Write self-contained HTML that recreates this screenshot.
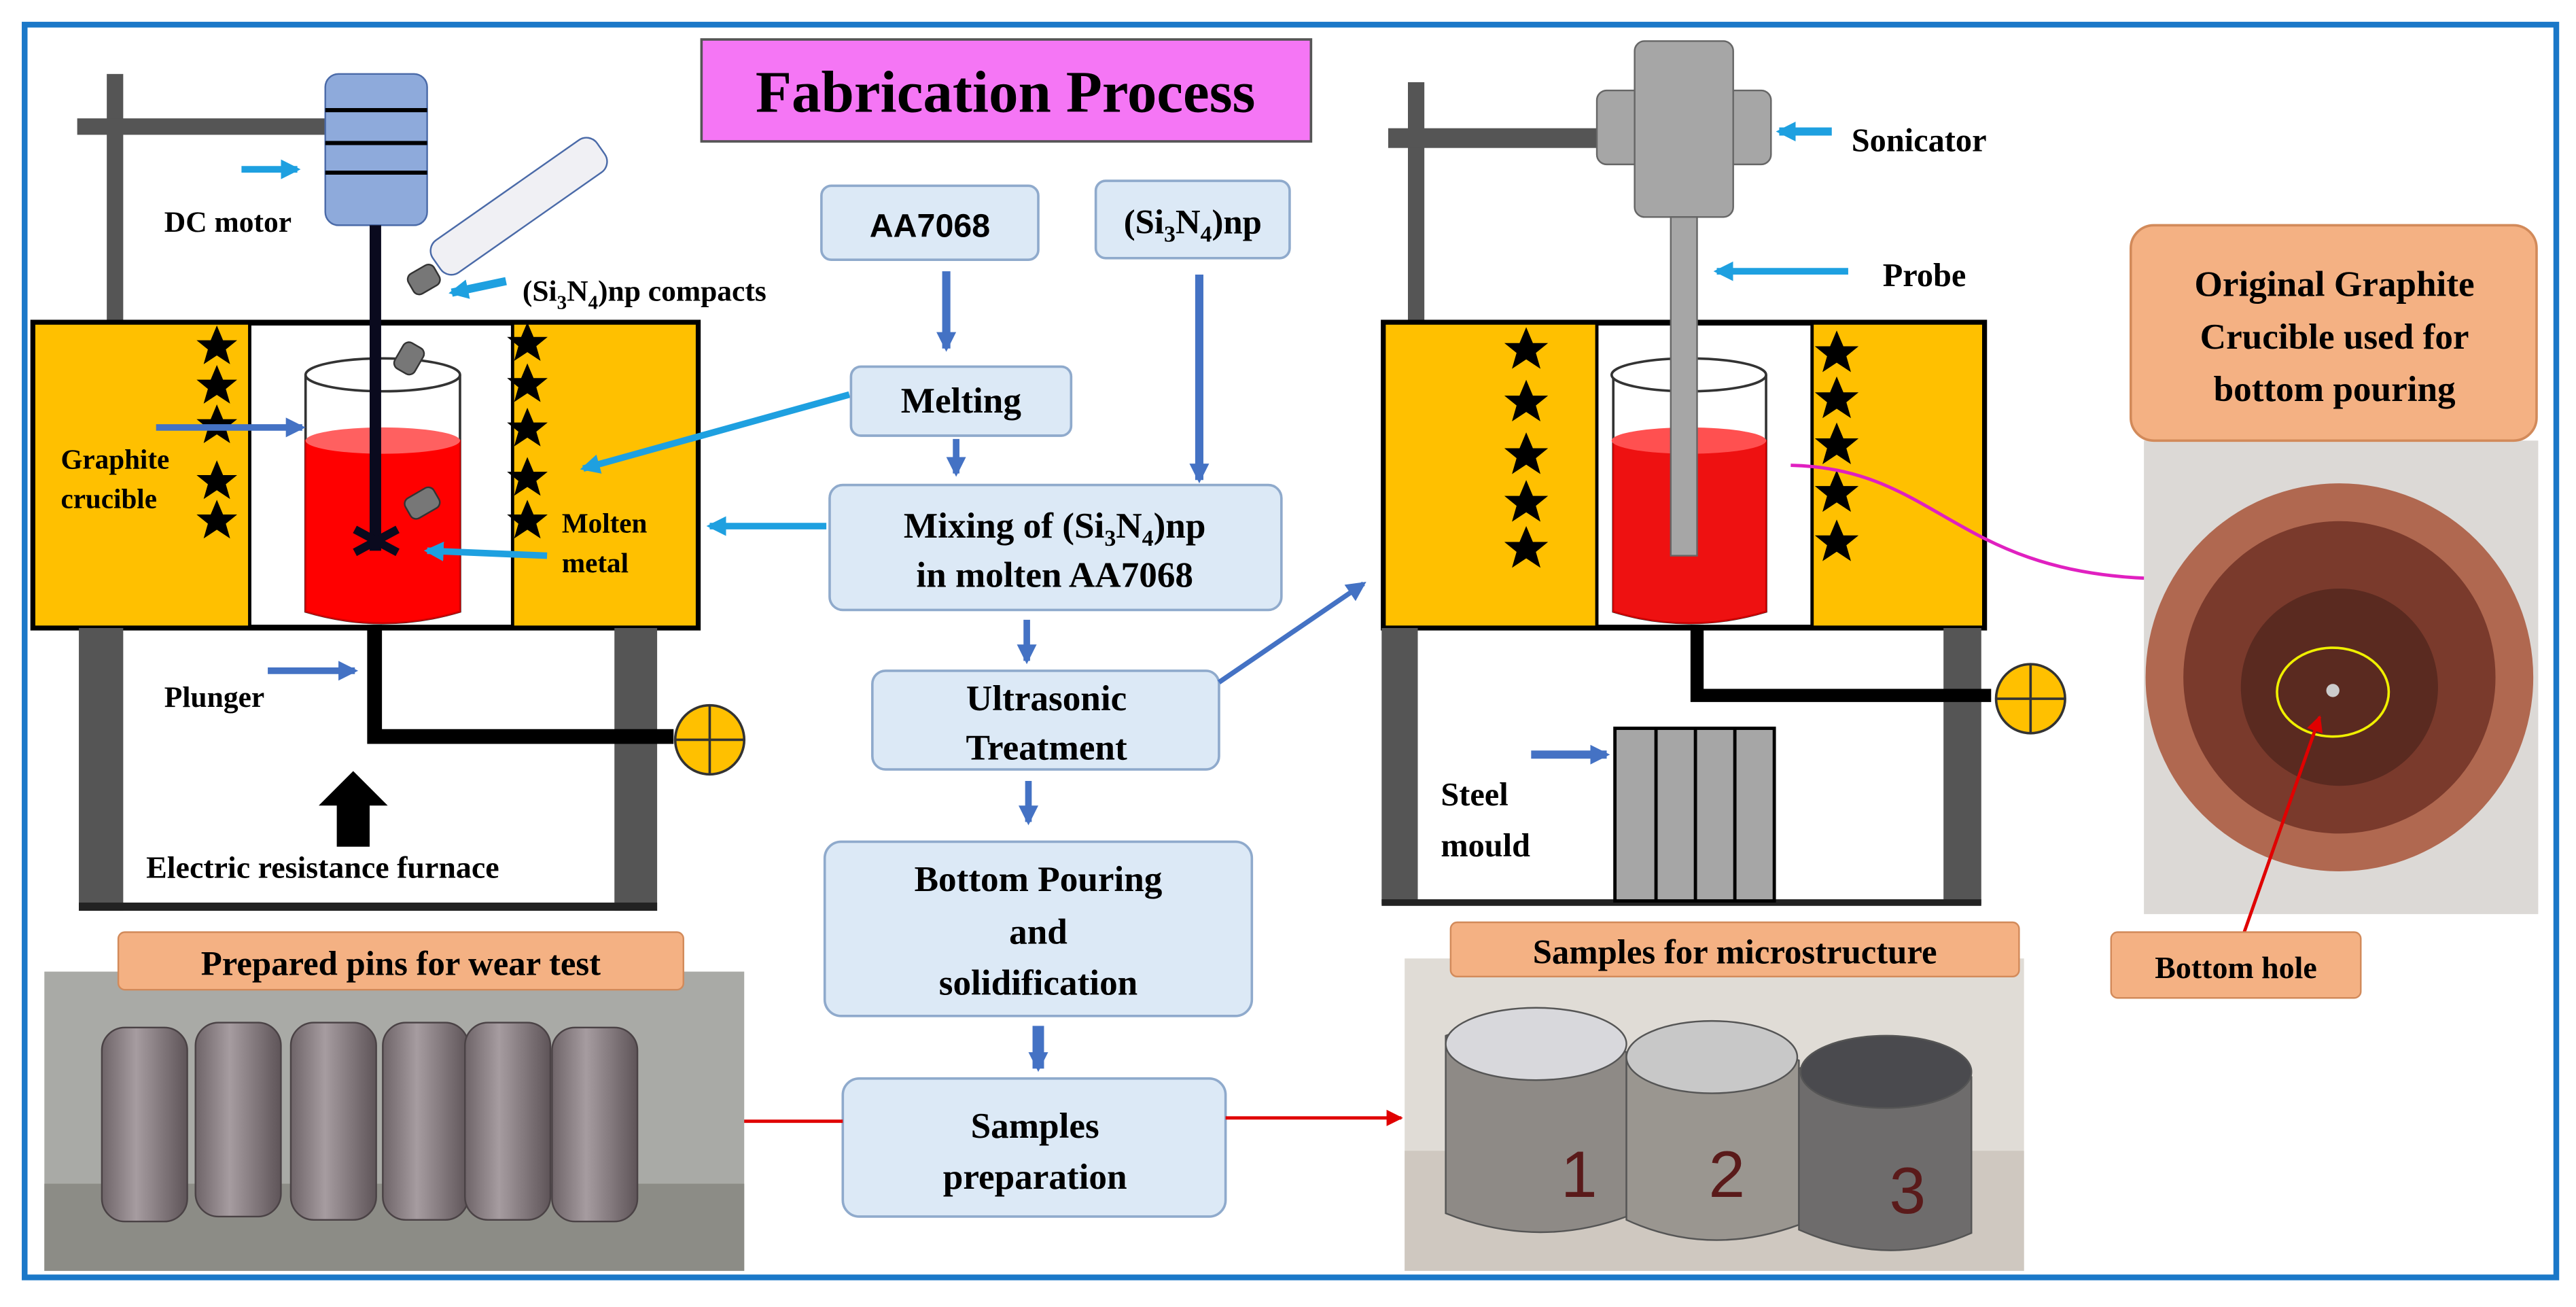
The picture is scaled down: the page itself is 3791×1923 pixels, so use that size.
<!DOCTYPE html>
<html><head><meta charset="utf-8"><style>html,body{margin:0;padding:0;background:#fff}svg{display:block}
text{font-family:"Liberation Serif",serif;font-weight:bold;fill:#000}</style></head><body>
<svg width="3791" height="1923" viewBox="0 0 1568 795" preserveAspectRatio="none" xmlns="http://www.w3.org/2000/svg">
<defs>
<marker id="bl" markerUnits="userSpaceOnUse" markerWidth="14" markerHeight="14" refX="10" refY="7" orient="auto"><path d="M0,1L12,7L0,13z" fill="#4472c4"/></marker>
<marker id="cy" markerUnits="userSpaceOnUse" markerWidth="14" markerHeight="14" refX="10" refY="7" orient="auto"><path d="M0,1L12,7L0,13z" fill="#1ea0e0"/></marker>
<marker id="rd" markerUnits="userSpaceOnUse" markerWidth="12" markerHeight="12" refX="9" refY="6" orient="auto"><path d="M0,1L10,6L0,11z" fill="#e00000"/></marker>
<marker id="mg" markerUnits="userSpaceOnUse" markerWidth="12" markerHeight="12" refX="9" refY="6" orient="auto"><path d="M0,1L10,6L0,11z" fill="#e020c0"/></marker>
<symbol id="st" viewBox="-10 -10 20 20"><path d="M0,-10L2.9,-3.1L9.5,-3.1L4.2,1.2L6.2,8.1L0,4L-6.2,8.1L-4.2,1.2L-9.5,-3.1L-2.9,-3.1z" fill="#000"/></symbol>
<linearGradient id="cyl" x1="0" x2="1"><stop offset="0" stop-color="#6e6468"/><stop offset=".4" stop-color="#a69ca0"/><stop offset="1" stop-color="#5e5458"/></linearGradient>
</defs>
<rect width="1568" height="795" fill="#fff"/>
<rect x="15" y="15" width="1541" height="762" fill="none" stroke="#1b78c8" stroke-width="3.5"/>
<rect x="427" y="24" width="371" height="62" fill="#f576f5" stroke="#555" stroke-width="1.5"/>
<text x="612" y="68" font-size="36" text-anchor="middle">Fabrication Process</text>

<rect x="65" y="45" width="10" height="152" fill="#555"/>
<rect x="47" y="72" width="160" height="10" fill="#555"/>
<rect x="198" y="45" width="62" height="92" rx="8" fill="#8eaadb" stroke="#4a6aa8"/>
<g stroke="#000" stroke-width="2.5"><line x1="198" y1="67" x2="260" y2="67"/><line x1="198" y1="87" x2="260" y2="87"/><line x1="198" y1="105" x2="260" y2="105"/></g>
<path d="M147,103h34" stroke="#1ea0e0" stroke-width="4" marker-end="url(#cy)"/>
<text x="100" y="141" font-size="18">DC motor</text>
<g transform="translate(315,126) rotate(-35)"><rect x="-60" y="-12" width="122" height="24" rx="8" fill="#f0f0f4" stroke="#4a6aa8"/></g>
<g transform="translate(258,170) rotate(-30)"><rect x="-9" y="-7" width="18" height="14" rx="4" fill="#777" stroke="#333"/></g>
<path d="M308,171L275,178" stroke="#1ea0e0" stroke-width="5" marker-end="url(#cy)"/>
<text x="318" y="183" font-size="18">(Si<tspan font-size="12" dy="5">3</tspan><tspan dy="-5">N</tspan><tspan font-size="12" dy="5">4</tspan><tspan dy="-5">)np compacts</tspan></text>
<rect x="20" y="196" width="405" height="186" fill="#ffc000" stroke="#000" stroke-width="3"/>
<rect x="152" y="197" width="160" height="184" fill="#fff" stroke="#000" stroke-width="2"/>
<g><use href="#st" x="119" y="198" width="26" height="26"/><use href="#st" x="119" y="222" width="26" height="26"/><use href="#st" x="119" y="246" width="26" height="26"/><use href="#st" x="119" y="280" width="26" height="26"/><use href="#st" x="119" y="304" width="26" height="26"/>
<use href="#st" x="308" y="196" width="26" height="26"/><use href="#st" x="308" y="221" width="26" height="26"/><use href="#st" x="308" y="248" width="26" height="26"/><use href="#st" x="308" y="278" width="26" height="26"/><use href="#st" x="308" y="304" width="26" height="26"/></g>
<path d="M186,228V372Q233,386 280,372V228" fill="#fff" stroke="#333" stroke-width="1.5"/>
<ellipse cx="233" cy="228" rx="47" ry="10" fill="#fff" stroke="#333" stroke-width="1.5"/>
<path d="M186,268V372Q233,386 280,372V268z" fill="#ff0000" stroke="#c00"/>
<ellipse cx="233" cy="268" rx="47" ry="8" fill="#ff6060"/>
<rect x="225" y="137" width="7" height="198" fill="#0a0a1e"/>
<path d="M216,322L242,336M216,336L242,322" stroke="#0a0a1e" stroke-width="5"/>
<g transform="translate(249,218) rotate(-60)"><rect x="-9" y="-7" width="18" height="14" rx="4" fill="#777" stroke="#333"/></g>
<g transform="translate(257,306) rotate(-30)"><rect x="-10" y="-7" width="20" height="14" rx="4" fill="#777" stroke="#333"/></g>
<path d="M95,260H184" stroke="#4472c4" stroke-width="4" marker-end="url(#bl)"/>
<text x="37" y="285" font-size="17">Graphite</text><text x="37" y="309" font-size="17">crucible</text>
<path d="M333,338L260,335" stroke="#1ea0e0" stroke-width="4" marker-end="url(#cy)"/>
<text x="342" y="324" font-size="17">Molten</text><text x="342" y="348" font-size="17">metal</text>
<path d="M517,240L355,285" stroke="#1ea0e0" stroke-width="4" marker-end="url(#cy)"/>
<rect x="48" y="382" width="27" height="172" fill="#555"/>
<rect x="374" y="382" width="26" height="172" fill="#555"/>
<rect x="48" y="549" width="352" height="5" fill="#222"/>
<path d="M228,380V448H410" fill="none" stroke="#000" stroke-width="9"/>
<circle cx="432" cy="450" r="21" fill="#ffc000" stroke="#333" stroke-width="1.5"/>
<path d="M432,429V471M411,450H453" stroke="#333" stroke-width="1.5"/>
<path d="M163,408H216" stroke="#4472c4" stroke-width="4" marker-end="url(#bl)"/>
<text x="100" y="430" font-size="18">Plunger</text>
<path d="M205,515V490H194L215,469L236,490H225V515z" fill="#000"/>
<text x="89" y="534" font-size="19">Electric resistance furnace</text>

<g fill="#dce9f6" stroke="#8faacc" stroke-width="1.5">
<rect x="500" y="113" width="132" height="45" rx="6"/>
<rect x="667" y="110" width="118" height="47" rx="6"/>
<rect x="518" y="223" width="134" height="42" rx="6"/>
<rect x="505" y="295" width="275" height="76" rx="8"/>
<rect x="531" y="408" width="211" height="60" rx="8"/>
<rect x="502" y="512" width="260" height="106" rx="10"/>
<rect x="513" y="656" width="233" height="84" rx="10"/>
</g>
<text x="566" y="144" font-size="20" text-anchor="middle" style="font-family:'Liberation Sans',sans-serif">AA7068</text>
<text x="726" y="142" font-size="21" text-anchor="middle">(Si<tspan font-size="14" dy="5">3</tspan><tspan dy="-5">N</tspan><tspan font-size="14" dy="5">4</tspan><tspan dy="-5">)np</tspan></text>
<text x="585" y="251" font-size="22" text-anchor="middle">Melting</text>
<text x="642" y="327" font-size="22" text-anchor="middle">Mixing of (Si<tspan font-size="14" dy="5">3</tspan><tspan dy="-5">N</tspan><tspan font-size="14" dy="5">4</tspan><tspan dy="-5">)np</tspan></text>
<text x="642" y="357" font-size="22" text-anchor="middle">in molten AA7068</text>
<text x="637" y="432" font-size="22" text-anchor="middle">Ultrasonic</text>
<text x="637" y="462" font-size="22" text-anchor="middle">Treatment</text>
<text x="632" y="542" font-size="22" text-anchor="middle">Bottom Pouring</text>
<text x="632" y="574" font-size="22" text-anchor="middle">and</text>
<text x="632" y="605" font-size="22" text-anchor="middle">solidification</text>
<text x="630" y="692" font-size="22" text-anchor="middle">Samples</text>
<text x="630" y="723" font-size="22" text-anchor="middle">preparation</text>
<g stroke="#4472c4" stroke-width="5" fill="none">
<path d="M576,165V212" marker-end="url(#bl)"/>
<path d="M730,167V292" marker-end="url(#bl)"/>
<path d="M582,267V288" stroke-width="4" marker-end="url(#bl)"/>
<path d="M625,377V402" stroke-width="4" marker-end="url(#bl)"/>
<path d="M626,475V500" stroke-width="4" marker-end="url(#bl)"/>
<path d="M632,624V650" stroke-width="7" marker-end="url(#bl)"/>
<path d="M742,415L830,355" stroke-width="3" marker-end="url(#bl)"/>
</g>
<path d="M503,320H432" stroke="#1ea0e0" stroke-width="4" marker-end="url(#cy)"/>
<path d="M513,682H441" stroke="#e00000" stroke-width="2" marker-end="url(#rd)"/>
<path d="M746,680H853" stroke="#e00000" stroke-width="2" marker-end="url(#rd)"/>

<rect x="857" y="50" width="10" height="150" fill="#555"/>
<rect x="845" y="78" width="135" height="12" fill="#555"/>
<rect x="972" y="55" width="106" height="45" rx="6" fill="#a6a6a6" stroke="#666"/>
<rect x="995" y="25" width="60" height="107" rx="6" fill="#a6a6a6" stroke="#666"/>
<path d="M1115,80H1083" stroke="#1ea0e0" stroke-width="5" marker-end="url(#cy)"/>
<text x="1127" y="92" font-size="20">Sonicator</text>
<path d="M1125,165H1045" stroke="#1ea0e0" stroke-width="4" marker-end="url(#cy)"/>
<text x="1146" y="174" font-size="20">Probe</text>
<rect x="842" y="196" width="366" height="186" fill="#ffc000" stroke="#000" stroke-width="3"/>
<rect x="972" y="197" width="131" height="184" fill="#fff" stroke="#000" stroke-width="2"/>
<g><use href="#st" x="915" y="199" width="28" height="28"/><use href="#st" x="915" y="231" width="28" height="28"/><use href="#st" x="915" y="263" width="28" height="28"/><use href="#st" x="915" y="292" width="28" height="28"/><use href="#st" x="915" y="320" width="28" height="28"/>
<use href="#st" x="1104" y="201" width="28" height="28"/><use href="#st" x="1104" y="229" width="28" height="28"/><use href="#st" x="1104" y="257" width="28" height="28"/><use href="#st" x="1104" y="286" width="28" height="28"/><use href="#st" x="1104" y="316" width="28" height="28"/></g>
<path d="M982,228V372Q1028,386 1075,372V228" fill="#fff" stroke="#333" stroke-width="1.5"/>
<ellipse cx="1028" cy="228" rx="47" ry="10" fill="#fff" stroke="#333" stroke-width="1.5"/>
<path d="M982,268V372Q1028,386 1075,372V268z" fill="#ee1111" stroke="#c00"/>
<ellipse cx="1028" cy="268" rx="47" ry="8" fill="#ff5050"/>
<rect x="1017" y="132" width="16" height="206" fill="#a6a6a6" stroke="#666"/>
<path d="M1090,283C1180,285 1190,350 1315,352" fill="none" stroke="#e020c0" stroke-width="2" marker-end="url(#mg)"/>
<rect x="841" y="382" width="22" height="168" fill="#555"/>
<rect x="1183" y="382" width="23" height="168" fill="#555"/>
<rect x="841" y="547" width="365" height="4" fill="#222"/>
<path d="M1033,380V423H1212" fill="none" stroke="#000" stroke-width="8"/>
<circle cx="1236" cy="425" r="21" fill="#ffc000" stroke="#333" stroke-width="1.5"/>
<path d="M1236,404V446M1215,425H1257" stroke="#333" stroke-width="1.5"/>
<rect x="983" y="443" width="97" height="105" fill="#a6a6a6" stroke="#000" stroke-width="2"/>
<path d="M1008,443V548M1032,443V548M1056,443V548" stroke="#000" stroke-width="2"/>
<path d="M932,459H978" stroke="#4472c4" stroke-width="5" marker-end="url(#bl)"/>
<text x="877" y="490" font-size="20">Steel</text><text x="877" y="521" font-size="20">mould</text>

<rect x="1305" y="268" width="240" height="288" fill="#dcd9d6"/>
<circle cx="1424" cy="412" r="118" fill="#b06850"/>
<circle cx="1424" cy="412" r="95" fill="#7a3a2c"/>
<circle cx="1424" cy="418" r="60" fill="#5a2a20"/>
<ellipse cx="1420" cy="421" rx="34" ry="27" fill="none" stroke="#f0f000" stroke-width="1.5"/>
<circle cx="1420" cy="420" r="4" fill="#ccc"/>
<path d="M1365,570L1412,436" stroke="#e00000" stroke-width="2" marker-end="url(#rd)"/>
<rect x="1297" y="137" width="247" height="131" rx="14" fill="#f4b183" stroke="#d28a5a" stroke-width="1.5"/>
<text x="1421" y="180" font-size="22" text-anchor="middle">Original Graphite</text>
<text x="1421" y="212" font-size="22" text-anchor="middle">Crucible used  for</text>
<text x="1421" y="244" font-size="22" text-anchor="middle">bottom pouring</text>
<rect x="1285" y="567" width="152" height="40" rx="4" fill="#f4b183" stroke="#d28a5a"/>
<text x="1361" y="595" font-size="19" text-anchor="middle">Bottom hole</text>

<rect x="27" y="591" width="426" height="182" fill="#a9aaa6"/>
<rect x="27" y="720" width="426" height="53" fill="#8c8c86"/>
<g fill="url(#cyl)" stroke="#4a4245">
<rect x="62" y="625" width="52" height="118" rx="14"/>
<rect x="119" y="622" width="52" height="118" rx="14"/>
<rect x="177" y="622" width="52" height="120" rx="14"/>
<rect x="233" y="622" width="52" height="120" rx="14"/>
<rect x="283" y="622" width="52" height="120" rx="14"/>
<rect x="336" y="625" width="52" height="118" rx="14"/>
</g>
<rect x="72" y="567" width="344" height="35" rx="4" fill="#f4b183" stroke="#d28a5a"/>
<text x="244" y="593" font-size="21" text-anchor="middle">Prepared pins for wear test</text>

<rect x="855" y="583" width="377" height="190" fill="#e0dcd6"/>
<rect x="855" y="700" width="377" height="73" fill="#cfc8c0"/>
<g stroke="#555">
<path d="M880,630Q930,610 990,640V740Q935,760 880,738z" fill="#8e8a86"/>
<ellipse cx="935" cy="635" rx="55" ry="22" fill="#d8d8dc"/>
<path d="M990,640Q1045,620 1095,645V745Q1040,765 990,742z" fill="#9a9690"/>
<ellipse cx="1042" cy="643" rx="52" ry="22" fill="#c8c8c8"/>
<path d="M1095,650Q1150,628 1200,655V750Q1150,772 1095,748z" fill="#6e6c6c"/>
<ellipse cx="1148" cy="652" rx="52" ry="22" fill="#4a4a4e"/>
</g>
<text x="950" y="728" font-size="40" style="fill:#5a1a1a;font-family:'Liberation Sans',sans-serif;font-weight:normal">1</text>
<text x="1040" y="728" font-size="40" style="fill:#5a1a1a;font-family:'Liberation Sans',sans-serif;font-weight:normal">2</text>
<text x="1150" y="738" font-size="40" style="fill:#5a1a1a;font-family:'Liberation Sans',sans-serif;font-weight:normal">3</text>
<rect x="883" y="561" width="346" height="33" rx="4" fill="#f4b183" stroke="#d28a5a"/>
<text x="1056" y="586" font-size="21" text-anchor="middle">Samples for microstructure</text>
</svg>
</body></html>
